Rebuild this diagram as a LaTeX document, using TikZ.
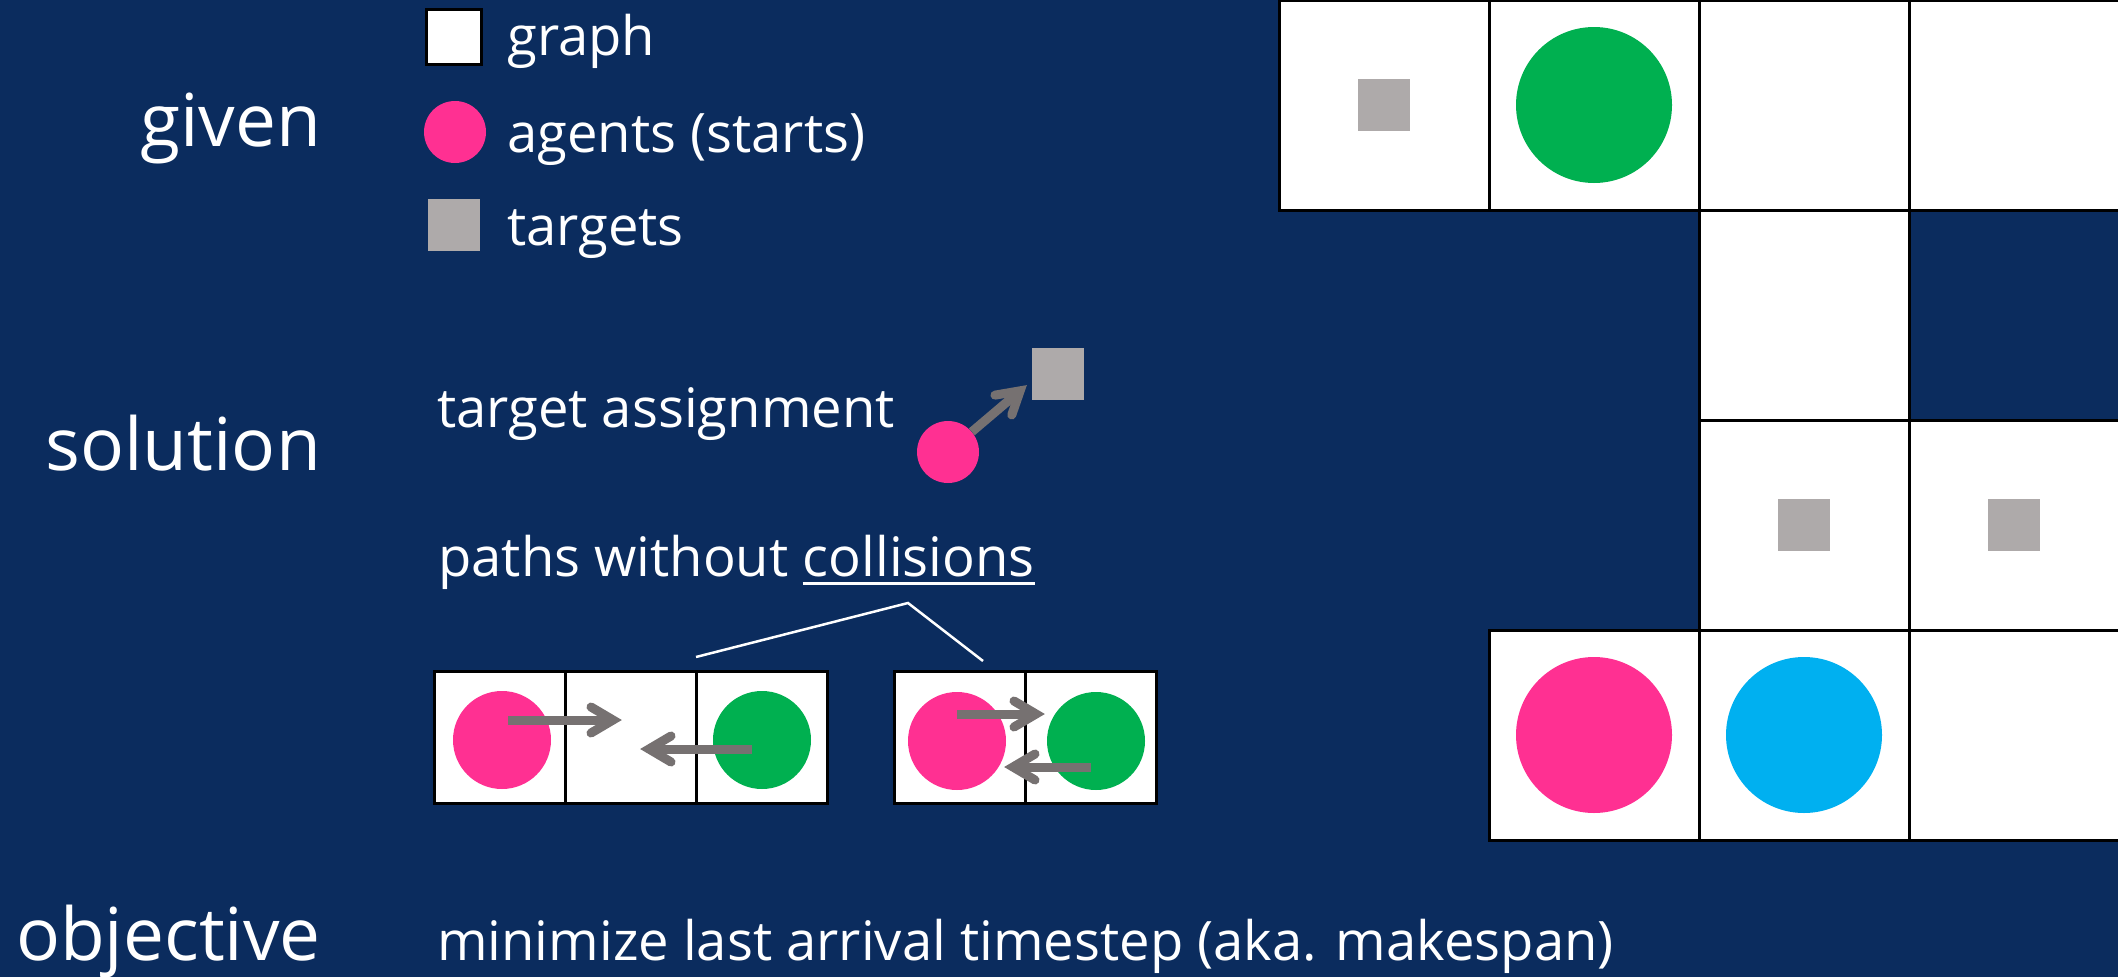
\documentclass[tikz,border=0pt]{standalone}
\usepackage{fontspec}
\setmainfont{Open Sans}
\definecolor{bg}{HTML}{0B2C5E}
\definecolor{agpink}{HTML}{FF3092}
\definecolor{aggreen}{HTML}{00B050}
\definecolor{agblue}{HTML}{00B0F0}
\definecolor{tgray}{HTML}{AEAAAA}
\definecolor{agray}{HTML}{767171}
\begin{document}
\begin{tikzpicture}[x=1pt,y=-1pt,
  cell/.style={draw=black, line width=3pt, fill=white, minimum size=210pt, inner sep=0pt, outer sep=0pt},
  smallcell/.style={draw=black, line width=3pt, fill=white, minimum width=131pt, minimum height=132pt, inner sep=0pt, outer sep=0pt},
  agent/.style={circle, inner sep=0pt, minimum size=#1},
  target/.style={fill=tgray, inner sep=0pt, minimum size=#1},
  shaft/.style={draw=agray, line width=9pt, shorten >=9pt},
  chev/.pic={\draw[agray, line width=9pt, line cap=round, line join=miter] (-31,-13) -- (-9,0) -- (-31,13);},
  bigtxt/.style={text=white, font=\fontsize{73}{82}\selectfont, inner sep=0pt},
  smalltxt/.style={text=white, font=\fontsize{54.4}{62}\selectfont, inner sep=0pt},
  bracket/.style={draw=white, line width=2.5pt}
]
\fill[bg] (0,0) rectangle (2118,977);
\useasboundingbox (0,0) rectangle (2118,977);

% grid
\node[cell] (c00) at (1384,105) {};
\node[cell] (c01) at (1594,105) {};
\node[cell] (c02) at (1804,105) {};
\node[cell] (c03) at (2014,105) {};
\node[cell] (c12) at (1804,315) {};
\node[cell] (c22) at (1804,525) {};
\node[cell] (c23) at (2014,525) {};
\node[cell] (c31) at (1594,735) {};
\node[cell] (c32) at (1804,735) {};
\node[cell] (c33) at (2014,735) {};
\node[target=52pt] (g00t) at (c00.center) {};
\node[target=52pt] (g22t) at (c22.center) {};
\node[target=52pt] (g23t) at (c23.center) {};
\node[agent=156pt, fill=aggreen] (g01a) at (c01.center) {};
\node[agent=156pt, fill=agpink] (g31a) at (c31.center) {};
\node[agent=156pt, fill=agblue] (g32a) at (c32.center) {};

% legend
\node[draw=black, line width=3pt, fill=white, minimum size=55pt, inner sep=0pt] (lgraph) at (454,37) {};
\node[agent=62pt, fill=agpink] (lagent) at (455,132) {};
\node[target=52pt] (ltarget) at (454,225) {};
\node[smalltxt, anchor=base west] (tgraph) at (507,55) {graph};
\node[smalltxt, anchor=base west] (tagent) at (507,152) {agents (starts)};
\node[smalltxt, anchor=base west] (ttarget) at (507,245) {targets};

% left labels
\node[bigtxt, anchor=base east] (given) at (321,146) {given};
\node[bigtxt, anchor=base east] (solution) at (321,470) {solution};
\node[bigtxt, anchor=base east] (objective) at (321,960) {objective};

% texts
\node[smalltxt, anchor=base west] (tassign) at (437,427) {target assignment};
\node[smalltxt, anchor=base west] (tpaths) at (438,576) {paths without \setbox0\hbox{collisions}\rlap{\rule[-8.5pt]{\wd0}{3pt}}\box0};
\node[smalltxt, anchor=base west] (tobj) at (437,960) {minimize last arrival timestep (aka. makespan)};

% assignment
\node[agent=62pt, fill=agpink] (apink) at (948,452) {};
\node[target=52pt] (atarget) at (1058,374) {};
\coordinate (atip) at (1027,385);
\draw[shaft] (apink) -- (atip);
\pic[rotate=40.3] at (atip) {chev};

% collision boxes
\node[smallcell] (l1) at (500,737) {};
\node[smallcell] (l2) at (631,737) {};
\node[smallcell] (l3) at (762,737) {};
\node[smallcell] (r1) at (959.5,737) {};
\node[smallcell] (r2) at (1090.5,737) {};
\node[agent=98pt, fill=agpink] (lp) at (502,740) {};
\node[agent=98pt, fill=aggreen] (lg) at (762,740) {};
\node[agent=98pt, fill=agpink] (rp) at (957,741) {};
\node[agent=98pt, fill=aggreen] (rg) at (1096,741) {};
\coordinate (a1s) at (508,720);
\coordinate (a1e) at (622,720);
\coordinate (a2s) at (752,749);
\coordinate (a2e) at (640,749);
\coordinate (a3s) at (957,714);
\coordinate (a3e) at (1045,714);
\coordinate (a4s) at (1091,767);
\coordinate (a4e) at (1004,767);
\draw[shaft] (a1s) -- (a1e);
\pic at (a1e) {chev};
\draw[shaft] (a2s) -- (a2e);
\pic[rotate=180] at (a2e) {chev};
\draw[shaft] (a3s) -- (a3e);
\pic at (a3e) {chev};
\draw[shaft] (a4s) -- (a4e);
\pic[rotate=180] at (a4e) {chev};

% bracket
\coordinate (bL) at (696,657);
\coordinate (bM) at (908,603);
\coordinate (bR) at (983,661);
\draw[bracket] (bL) -- (bM) -- (bR);
\end{tikzpicture}
\end{document}
